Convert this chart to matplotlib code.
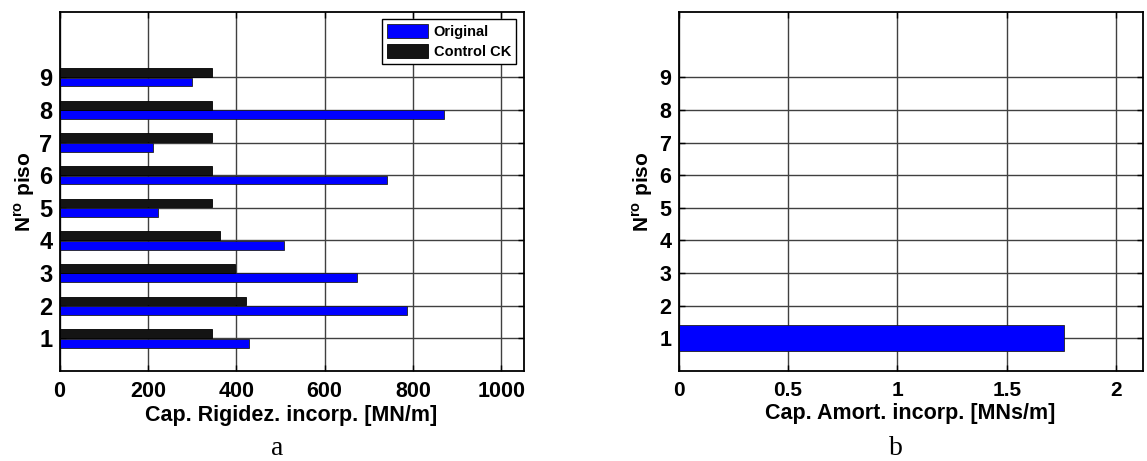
import matplotlib
matplotlib.use("Agg")
import matplotlib.pyplot as plt
import numpy as np

# stiffness / damping added per floor
floors = np.arange(1, 10)
k_original = [429, 787, 673, 509, 224, 741, 212, 871, 299]
k_control = [345, 422, 398, 364, 345, 345, 345, 345, 345]
c_added = [1.76, 0, 0, 0, 0, 0, 0, 0, 0]

plt.rcParams['font.family'] = ['Liberation Sans', 'DejaVu Sans']
plt.rcParams['font.weight'] = 'bold'
plt.rcParams['mathtext.fontset'] = 'custom'
plt.rcParams['mathtext.rm'] = 'Liberation Sans:bold'
plt.rcParams['mathtext.bf'] = 'Liberation Sans:bold'

W, H = 1147, 461
fig = plt.figure(figsize=(W / 100, H / 100), dpi=100)
ax1 = fig.add_axes([59.5 / W, 90 / H, 464 / W, 359 / H])
ax2 = fig.add_axes([678.5 / W, 90 / H, 464 / W, 359 / H])


def style(ax, xsize, ysize):
    ax.set_axisbelow(True)
    ax.grid(True, color='#404040', linewidth=1.0, linestyle='-')
    ax.tick_params(direction='in', length=4, width=1, top=True, right=True,
                   pad=6)
    ax.tick_params(axis='x', labelsize=xsize, pad=7)
    ax.tick_params(axis='y', labelsize=ysize, pad=5)
    for s in ax.spines.values():
        s.set_linewidth(1.3)
    ax.set_ylim(0, 11)
    ax.set_yticks(floors)


# a) stiffness
h = 0.27
ax1.barh(floors - 0.145, k_original, height=h, color='#0000ff',
         edgecolor='#202020', linewidth=0.6, label='Original')
ax1.barh(floors + 0.145, k_control, height=h, color='#141414',
         edgecolor='#000000', linewidth=0.6, label='Control CK')
style(ax1, 15.5, 17)
ax1.set_xlim(0, 1050)
ax1.set_xticks([0, 200, 400, 600, 800, 1000])
ax1.set_xlabel('Cap. Rigidez. incorp. [MN/m]', fontsize=15.5, fontweight='bold',
               labelpad=2)
ax1.set_ylabel(r'N$^{\mathbf{ro}}$ piso', fontsize=15, fontweight='bold',
               labelpad=2)
leg = ax1.legend(loc='upper right', fontsize=10.5, frameon=True, fancybox=False,
                 edgecolor='black', framealpha=1, handlelength=2.8,
                 handleheight=1.1, borderpad=0.35, labelspacing=0.3,
                 handletextpad=0.4, borderaxespad=0.5)
leg.get_frame().set_linewidth(1.0)

# b) damping
ax2.barh(floors, c_added, height=0.8, color='#0000ff', edgecolor='#202020',
         linewidth=0.6)
style(ax2, 15, 15.5)
ax2.set_xlim(0, 2.12)
ax2.set_xticks([0, 0.5, 1, 1.5, 2])
ax2.set_xticklabels(['0', '0.5', '1', '1.5', '2'])
ax2.set_xlabel('Cap. Amort. incorp. [MNs/m]', fontsize=15.5, fontweight='bold',
               labelpad=2)
ax2.set_ylabel(r'N$^{\mathbf{ro}}$ piso', fontsize=15, fontweight='bold',
               labelpad=3)

fig.text(277 / W, 1 - 448 / H, 'a', family='Liberation Serif', fontweight='normal',
         fontsize=20, ha='center', va='center')
fig.text(896 / W, 1 - 448 / H, 'b', family='Liberation Serif', fontweight='normal',
         fontsize=20, ha='center', va='center')

fig.savefig('out.png', dpi=100)
